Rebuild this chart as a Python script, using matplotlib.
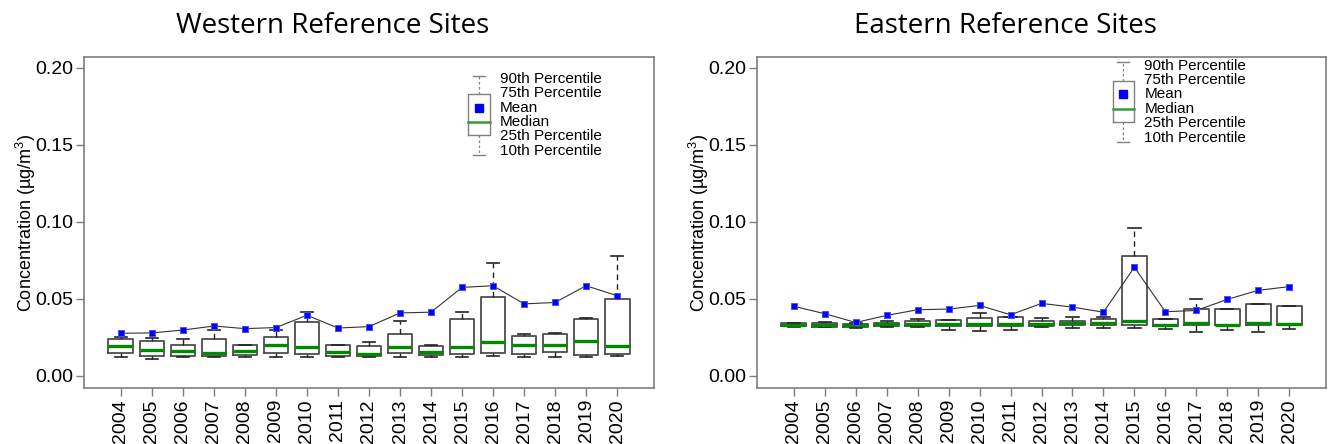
import matplotlib
matplotlib.use("Agg")
import matplotlib.pyplot as plt

plt.rcParams['font.family'] = ['Liberation Sans', 'DejaVu Sans']
plt.rcParams['mathtext.fontset'] = 'custom'
plt.rcParams['mathtext.rm'] = 'Liberation Sans'
plt.rcParams['mathtext.it'] = 'Liberation Sans'

years = ['2004', '2005', '2006', '2007', '2008', '2009', '2010', '2011', '2012',
         '2013', '2014', '2015', '2016', '2017', '2018', '2019', '2020']

# western sites (ug/m3)
west_p10 = [0.012, 0.011, 0.012, 0.012, 0.012, 0.012, 0.012, 0.012, 0.012,
            0.012, 0.012, 0.012, 0.013, 0.012, 0.012, 0.012, 0.013]
west_p25 = [0.0144, 0.0129, 0.0129, 0.0129, 0.0131, 0.0148, 0.0142, 0.0129, 0.0129,
            0.0148, 0.0133, 0.0137, 0.0148, 0.0137, 0.0152, 0.0133, 0.0140]
west_med = [0.0191, 0.0163, 0.0159, 0.0148, 0.0157, 0.0196, 0.0188, 0.0150, 0.0137,
            0.0183, 0.0152, 0.0188, 0.0216, 0.0200, 0.0196, 0.0224, 0.0194]
west_p75 = [0.0240, 0.0227, 0.0196, 0.0240, 0.0196, 0.0250, 0.0346, 0.0198, 0.0192,
            0.0270, 0.0192, 0.0368, 0.0510, 0.0259, 0.0270, 0.0366, 0.0498]
west_p90 = [0.0250, 0.0242, 0.0240, 0.0296, 0.0196, 0.0299, 0.0410, 0.0198, 0.0216,
            0.0355, 0.0196, 0.0416, 0.0730, 0.0270, 0.0275, 0.0372, 0.0777]
west_mean = [0.0275, 0.0277, 0.0296, 0.0322, 0.0305, 0.0312, 0.0392, 0.0309, 0.0318,
             0.0407, 0.0412, 0.0573, 0.0584, 0.0466, 0.0475, 0.0584, 0.0519]

# eastern sites (ug/m3)
east_p10 = [0.0313, 0.0313, 0.0306, 0.0317, 0.0313, 0.0293, 0.0289, 0.0293, 0.0315,
            0.0306, 0.0306, 0.0306, 0.0300, 0.0285, 0.0298, 0.0285, 0.0304]
east_p25 = [0.0321, 0.0315, 0.0315, 0.0321, 0.0321, 0.0321, 0.0321, 0.0324, 0.0324,
            0.0328, 0.0328, 0.0328, 0.0319, 0.0326, 0.0326, 0.0330, 0.0326]
east_med = [0.0330, 0.0330, 0.0328, 0.0332, 0.0334, 0.0334, 0.0336, 0.0334, 0.0334,
            0.0339, 0.0343, 0.0352, 0.0328, 0.0339, 0.0330, 0.0343, 0.0332]
east_p75 = [0.0343, 0.0343, 0.0337, 0.0343, 0.0354, 0.0363, 0.0371, 0.0378, 0.0356,
            0.0356, 0.0367, 0.0780, 0.0369, 0.0430, 0.0430, 0.0465, 0.0450]
east_p90 = [0.0343, 0.0347, 0.0340, 0.0352, 0.0369, 0.0363, 0.0408, 0.0378, 0.0371,
            0.0382, 0.0382, 0.0960, 0.0370, 0.0500, 0.0430, 0.0465, 0.0450]
east_mean = [0.0450, 0.0402, 0.0345, 0.0391, 0.0428, 0.0432, 0.0456, 0.0395, 0.0469,
             0.0445, 0.0412, 0.0704, 0.0415, 0.0423, 0.0495, 0.0554, 0.0578]

legend_labels = ['90th Percentile', '75th Percentile', 'Mean', 'Median',
                 '25th Percentile', '10th Percentile']

FRAME = '#7f7f7f'
GREEN = '#008a00'
BLUE = '#0000ff'


def draw_panel(ax, title, p10, p25, med, p75, p90, mean, leg_x, leg_top):
    stats = []
    for i in range(len(years)):
        stats.append(dict(whislo=p10[i], q1=p25[i], med=med[i], q3=p75[i],
                          whishi=p90[i], fliers=[]))
    pos = list(range(len(years)))
    ax.bxp(stats, positions=pos, widths=0.8, capwidths=0.4, showfliers=False,
           boxprops=dict(color='#4d4d4d', lw=1.3),
           medianprops=dict(color=GREEN, lw=2.4, solid_capstyle='butt'),
           whiskerprops=dict(color='#222222', lw=1.0, ls=(0, (4, 3))),
           capprops=dict(color='#222222', lw=1.2))
    ax.plot(pos, mean, color='#333333', lw=0.8, zorder=4)
    ax.plot(pos, mean, ls='none', marker='s', ms=4.8, mfc=BLUE, mec='#4a4aff',
            mew=0.7, zorder=5)

    ax.set_xlim(-1.19, 17.19)
    ax.set_ylim(-0.0081, 0.2071)
    ax.set_yticks([0.0, 0.05, 0.10, 0.15, 0.20])
    ax.set_yticklabels(['0.00', '0.05', '0.10', '0.15', '0.20'])
    ax.set_xticks(pos)
    ax.set_xticklabels(years, rotation=90)
    ax.tick_params(axis='both', labelsize=14, color=FRAME, length=6, width=1,
                   pad=2)
    for s in ax.spines.values():
        s.set_color(FRAME)
        s.set_linewidth(1.2)
    ax.set_ylabel('Concentration (µg/m$^{3}$)', fontsize=13, labelpad=-2)
    ax.set_title(title, fontsize=20, pad=17, x=0.437,
                 family=['Open Sans', 'DejaVu Sans'])

    # key box drawn in axes fraction units
    tr = ax.transAxes
    step = 0.0435
    ys = [leg_top - k * step for k in range(6)]
    hw = 0.0185
    cw = 0.0105
    top, q3, mn, md, q1, bot = ys[0], ys[1] - 0.003, ys[2], ys[3], ys[4] + 0.003, ys[5] - 0.012
    ax.plot([leg_x - hw, leg_x + hw, leg_x + hw, leg_x - hw, leg_x - hw],
            [q1, q1, q3, q3, q1], color='#808080', lw=1.0, transform=tr)
    ax.plot([leg_x - hw, leg_x + hw], [md, md], color='#3a9a3a', lw=1.8,
            transform=tr)
    ax.plot([leg_x], [mn], marker='s', ms=6, color=BLUE, transform=tr)
    ax.plot([leg_x, leg_x], [q3, top + 0.01], color='#808080', lw=0.9,
            ls=(0, (2, 2)), transform=tr)
    ax.plot([leg_x, leg_x], [q1, bot], color='#808080', lw=0.9,
            ls=(0, (2, 2)), transform=tr)
    ax.plot([leg_x - cw, leg_x + cw], [top + 0.01, top + 0.01], color='#808080',
            lw=1.0, transform=tr)
    ax.plot([leg_x - cw, leg_x + cw], [bot, bot], color='#808080', lw=1.0,
            transform=tr)
    for y, lab in zip(ys, legend_labels):
        ax.text(leg_x + 0.037, y, lab, transform=tr, fontsize=11, va='center',
                ha='left')


fig = plt.figure(figsize=(13.31, 4.44), dpi=100)
ax1 = fig.add_axes([84 / 1331, 56 / 444, 570 / 1331, 331 / 444])
ax2 = fig.add_axes([757 / 1331, 56 / 444, 569 / 1331, 331 / 444])

draw_panel(ax1, 'Western Reference Sites', west_p10, west_p25, west_med,
           west_p75, west_p90, west_mean, 0.693, 0.934)
draw_panel(ax2, 'Eastern Reference Sites', east_p10, east_p25, east_med,
           east_p75, east_p90, east_mean, 0.644, 0.974)

fig.savefig('out.png', dpi=100)
